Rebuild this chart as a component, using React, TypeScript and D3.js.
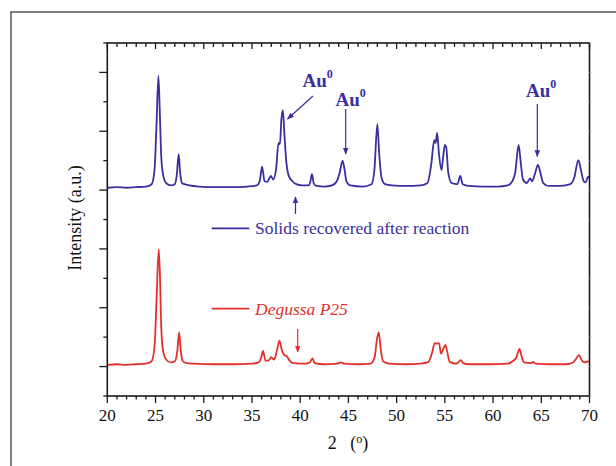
import React from "react";
import * as d3 from "d3";

const xTicksMajor = [20, 25, 30, 35, 40, 45, 50, 55, 60, 65, 70];
const yTicksMajor = [0, 1, 2, 3, 4, 5];

const blueSeries: [number, number][] = [
  [20, 3.04], [21, 3.05], [22, 3.04], [23, 3.05], [24, 3.06], [24.6, 3.1], [24.9, 3.35], [25.1, 4.1], [25.3, 4.94], [25.45, 4.3], [25.6, 3.55], [25.8, 3.25], [26.1, 3.12], [26.6, 3.08], [27.0, 3.1], [27.2, 3.25], [27.4, 3.61], [27.55, 3.3], [27.75, 3.12], [28.0, 3.1], [28.5, 3.08], [29.5, 3.06], [31, 3.05], [33, 3.05], [34.5, 3.06], [35.5, 3.08], [35.8, 3.15], [36.05, 3.4], [36.3, 3.15], [36.6, 3.14], [36.95, 3.24], [37.2, 3.18], [37.5, 3.35], [37.75, 3.8], [37.9, 3.78], [38.05, 4.2], [38.2, 4.36], [38.35, 4.0], [38.55, 3.5], [38.8, 3.25], [39.2, 3.15], [39.6, 3.1], [40.2, 3.08], [40.9, 3.08], [41.05, 3.14], [41.22, 3.27], [41.4, 3.12], [41.7, 3.07], [42.5, 3.06], [43.3, 3.08], [43.8, 3.15], [44.1, 3.3], [44.4, 3.5], [44.6, 3.35], [44.8, 3.15], [45.2, 3.08], [46.5, 3.06], [47.4, 3.1], [47.7, 3.35], [48.0, 4.12], [48.2, 3.6], [48.45, 3.2], [48.8, 3.1], [49.5, 3.08], [51, 3.07], [52.5, 3.08], [53.2, 3.12], [53.6, 3.45], [53.9, 3.85], [54.05, 3.8], [54.2, 3.97], [54.4, 3.6], [54.65, 3.34], [54.85, 3.6], [55.0, 3.77], [55.15, 3.72], [55.35, 3.3], [55.7, 3.12], [56.3, 3.1], [56.6, 3.24], [56.85, 3.1], [57.5, 3.07], [59, 3.06], [60.5, 3.06], [61.5, 3.08], [62.0, 3.15], [62.3, 3.3], [62.65, 3.77], [62.85, 3.5], [63.1, 3.18], [63.5, 3.12], [63.85, 3.2], [64.05, 3.15], [64.35, 3.28], [64.65, 3.43], [64.9, 3.3], [65.2, 3.12], [65.8, 3.07], [67, 3.07], [68.0, 3.1], [68.4, 3.2], [68.85, 3.51], [69.1, 3.35], [69.4, 3.15], [69.6, 3.13], [69.85, 3.23], [70, 3.2],
];

const redSeries: [number, number][] = [
  [20, 0.03], [21, 0.04], [22, 0.03], [23, 0.04], [24, 0.05], [24.6, 0.09], [24.9, 0.35], [25.1, 1.1], [25.33, 1.99], [25.45, 1.6], [25.6, 0.65], [25.8, 0.25], [26.1, 0.12], [26.6, 0.07], [27.0, 0.09], [27.25, 0.25], [27.45, 0.58], [27.6, 0.3], [27.8, 0.1], [28.2, 0.06], [29, 0.05], [31, 0.04], [33, 0.04], [35, 0.05], [35.7, 0.07], [35.95, 0.15], [36.15, 0.265], [36.4, 0.1], [36.7, 0.1], [37.0, 0.16], [37.3, 0.12], [37.6, 0.28], [37.85, 0.44], [38.1, 0.28], [38.4, 0.19], [38.6, 0.18], [38.9, 0.1], [39.3, 0.06], [40.5, 0.05], [41.0, 0.07], [41.27, 0.14], [41.5, 0.06], [42.5, 0.04], [43.8, 0.05], [44.2, 0.07], [44.6, 0.05], [46, 0.04], [47.3, 0.05], [47.7, 0.15], [48.0, 0.5], [48.15, 0.58], [48.35, 0.3], [48.6, 0.09], [49.2, 0.05], [51, 0.04], [52.5, 0.05], [53.3, 0.08], [53.7, 0.25], [53.95, 0.4], [54.2, 0.39], [54.4, 0.4], [54.6, 0.22], [54.8, 0.28], [55.05, 0.37], [55.25, 0.25], [55.5, 0.08], [56.2, 0.05], [56.45, 0.08], [56.65, 0.11], [56.9, 0.06], [57.5, 0.04], [59.5, 0.04], [61.5, 0.05], [62.1, 0.1], [62.4, 0.15], [62.75, 0.3], [62.95, 0.18], [63.2, 0.07], [64.0, 0.06], [64.15, 0.08], [64.4, 0.05], [66, 0.04], [67.5, 0.04], [68.3, 0.07], [68.6, 0.13], [68.9, 0.2], [69.15, 0.12], [69.45, 0.07], [69.7, 0.08], [69.85, 0.09], [70, 0.08],
];

const BLUE = "#3a2f9e";
const RED = "#e3302b";
const FONT = "'Liberation Serif', 'Times New Roman', serif";

export default function App() {
  const W = 616, H = 466;
  const left = 107.3, right = 589.5, top = 43, bottom = 396;
  const x = d3.scaleLinear().domain([20, 70]).range([left, right]);
  const y = d3.scaleLinear().domain([-0.5, 5.5]).range([bottom, top]);
  const line = d3.line<[number, number]>().x(d => x(d[0])).y(d => y(d[1])).curve(d3.curveMonotoneX);

  const xMinor = d3.range(20, 70.001, 1);
  const yAll = d3.range(-0.5, 5.501, 0.5);
  const axisColor = "#1a1a1a";

  return (
    <svg width={W} height={H} style={{ position: "absolute", left: 0, top: 0 }}>
      <defs>
        <marker id="ab" viewBox="0 0 10 10" refX="9" refY="5" markerWidth="7" markerHeight="8" orient="auto-start-reverse" markerUnits="userSpaceOnUse">
          <path d="M0,1 L10,5 L0,9 Z" fill={BLUE} />
        </marker>
        <marker id="ar" viewBox="0 0 10 10" refX="9" refY="5" markerWidth="7" markerHeight="8" orient="auto-start-reverse" markerUnits="userSpaceOnUse">
          <path d="M0,1 L10,5 L0,9 Z" fill={RED} />
        </marker>
      </defs>
      <rect x={0} y={0} width={W} height={H} fill="#fff" />
      {/* outer frame */}
      <path d={`M11,${H} L11,12 L${W + 2},12`} fill="none" stroke="#555" strokeWidth={1.5} />

      {/* series */}
      <path d={line(redSeries) || ""} fill="none" stroke={RED} strokeWidth={1.8} strokeLinejoin="round" />
      <path d={line(blueSeries) || ""} fill="none" stroke={BLUE} strokeWidth={1.8} strokeLinejoin="round" />

      {/* axes box */}
      <rect x={left} y={top} width={right - left} height={bottom - top} fill="none" stroke={axisColor} strokeWidth={1.6} />

      {/* bottom ticks (outward) */}
      {xMinor.map(v => {
        const major = Math.round(v) % 5 === 0;
        return <line key={"b" + v} x1={x(v)} x2={x(v)} y1={bottom} y2={bottom + (major ? 7 : 3.5)} stroke={axisColor} strokeWidth={1.3} />;
      })}
      {/* top ticks (inward) */}
      {xMinor.map(v => {
        const major = Math.round(v) % 5 === 0;
        return <line key={"t" + v} x1={x(v)} x2={x(v)} y1={top} y2={top + (major ? 6 : 4)} stroke={axisColor} strokeWidth={1.3} />;
      })}
      {/* left ticks (outward) */}
      {yAll.map(v => {
        const major = yTicksMajor.includes(v);
        return <line key={"l" + v} x1={left} x2={left - (major ? 8 : 4)} y1={y(v)} y2={y(v)} stroke={axisColor} strokeWidth={1.3} />;
      })}
      {/* right ticks (faint) */}
      {yAll.map(v => (
        <line key={"r" + v} x1={right} x2={right + 2} y1={y(v)} y2={y(v)} stroke="#bbb" strokeWidth={1} />
      ))}

      {/* x tick labels */}
      {xTicksMajor.map(v => (
        <text key={"xl" + v} x={x(v)} y={421} textAnchor="middle" fontFamily={FONT} fontSize={17} fill="#111">{v}</text>
      ))}

      {/* axis titles */}
      <text x={348} y={449} textAnchor="middle" fontFamily={FONT} fontSize={18} fill="#111">
        2{"\u00a0\u00a0\u00a0"}(<tspan fontSize={12} dy={-6}>o</tspan><tspan dy={6}>)</tspan>
      </text>
      <text transform={`translate(81,218) rotate(-90)`} textAnchor="middle" fontFamily={FONT} fontSize={18} fill="#111">Intensity (a.u.)</text>

      {/* Au0 annotations */}
      <text x={302.5} y={86.5} fontFamily={FONT} fontSize={19} fontWeight="bold" fill={BLUE}>Au<tspan fontSize={12} dy={-9}>0</tspan></text>
      <line x1={313} y1={96} x2={287.5} y2={119} stroke={BLUE} strokeWidth={1.2} markerEnd="url(#ab)" />
      <text x={335.5} y={105.5} fontFamily={FONT} fontSize={19} fontWeight="bold" fill={BLUE}>Au<tspan fontSize={12} dy={-9}>0</tspan></text>
      <line x1={345.7} y1={109} x2={345.7} y2={154} stroke={BLUE} strokeWidth={1.2} markerEnd="url(#ab)" />
      <text x={526} y={97} fontFamily={FONT} fontSize={19} fontWeight="bold" fill={BLUE}>Au<tspan fontSize={12} dy={-9}>0</tspan></text>
      <line x1={537.3} y1={104} x2={537.3} y2={156.5} stroke={BLUE} strokeWidth={1.2} markerEnd="url(#ab)" />

      {/* up arrow blue */}
      <line x1={295.5} y1={214} x2={295.5} y2={197} stroke={BLUE} strokeWidth={1.2} markerEnd="url(#ab)" />

      {/* legend blue */}
      <line x1={211.7} x2={249.3} y1={228.3} y2={228.3} stroke={BLUE} strokeWidth={1.7} />
      <text x={255} y={234} fontFamily={FONT} fontSize={17.5} fill={BLUE}>Solids recovered after reaction</text>

      {/* legend red */}
      <line x1={211.7} x2={249.3} y1={308.7} y2={308.7} stroke={RED} strokeWidth={1.7} />
      <text x={255} y={314.5} fontFamily={FONT} fontSize={17.5} fontStyle="italic" fill={RED}>Degussa P25</text>

      {/* down arrow red */}
      <line x1={297.7} y1={329} x2={297.7} y2={352} stroke={RED} strokeWidth={1.2} markerEnd="url(#ar)" />
    </svg>
  );
}
